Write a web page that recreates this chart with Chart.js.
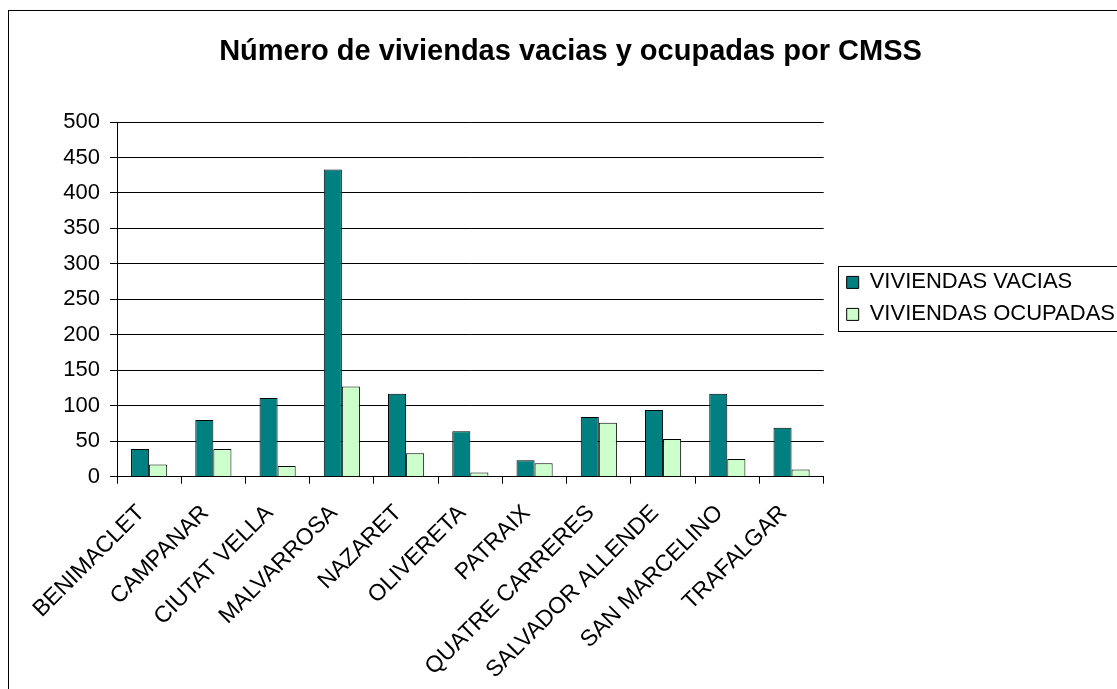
<!DOCTYPE html>
<html lang="es">
<head>
<meta charset="UTF-8">
<title>Viviendas vacias y ocupadas por CMSS</title>
<script src="https://cdn.jsdelivr.net/npm/chart.js"></script>
<style>
  html, body { margin: 0; padding: 0; background: #fff; overflow: hidden; }
  .marco { position: absolute; left: 8px; top: 10px; width: 1300px; height: 900px; border: 1px solid #000; }
  .grafico { position: absolute; left: 0; top: 0; width: 1125px; height: 700px; }
</style>
</head>
<body>
<div class="marco"></div>
<div class="grafico"><canvas id="graficoBarra"></canvas></div>

<script>
var centros = ['BENIMACLET', 'CAMPANAR', 'CIUTAT VELLA', 'MALVARROSA', 'NAZARET', 'OLIVERETA',
               'PATRAIX', 'QUATRE CARRERES', 'SALVADOR ALLENDE', 'SAN MARCELINO', 'TRAFALGAR'];
var vacias   = [39, 80, 111, 433, 117, 64, 23, 84, 94, 117, 69];
var ocupadas = [17, 39, 15, 127, 33, 6, 19, 76, 53, 25, 10];
var ticksY = { min: 0, max: 500, paso: 50 };

var fuente = 'Liberation Sans, Arial, sans-serif';

// caja alrededor de la leyenda, como en Excel
var cajaLeyenda = {
    id: 'cajaLeyenda',
    afterDraw: function (chart) {
        var hb = chart.legend.legendHitBoxes;
        if (!hb || !hb.length) return;
        var ultimo = hb[hb.length - 1];
        var x = Math.round(hb[0].left - 9) + 0.5;
        var y = Math.round(hb[0].top - 5) + 0.5;
        var alto = Math.round(ultimo.top + ultimo.height + 6) - Math.round(hb[0].top - 5);
        var ctx = chart.ctx;
        ctx.save();
        ctx.strokeStyle = '#000';
        ctx.lineWidth = 1;
        ctx.strokeRect(x, y, 400, alto);
        ctx.restore();
    }
};

new Chart(document.getElementById('graficoBarra').getContext('2d'), {
    type: 'bar',
    data: {
        labels: centros,
        datasets: [{
            label: 'VIVIENDAS VACIAS',
            data: vacias,
            backgroundColor: '#008080',
            borderColor: '#000',
            borderWidth: 1
        }, {
            label: 'VIVIENDAS OCUPADAS',
            data: ocupadas,
            backgroundColor: '#CCFFCC',
            borderColor: '#000',
            borderWidth: 1
        }]
    },
    options: {
        responsive: true,
        maintainAspectRatio: false,
        animation: false,
        datasets: { bar: { categoryPercentage: 0.5625, barPercentage: 1 } },
        layout: { padding: { left: 16, right: 0, top: 0, bottom: 0 } },
        plugins: {
            title: {
                display: true,
                text: 'Número de viviendas vacias y ocupadas por CMSS',
                color: '#000',
                font: { family: fuente, size: 29, weight: 'bold' },
                padding: { top: 34.6, bottom: 52.6 }
            },
            legend: {
                position: 'right',
                align: 'start',
                maxWidth: 400,
                title: { display: true, text: '', font: { size: 12 }, padding: { top: 247, bottom: 0 } },
                labels: {
                    color: '#000',
                    font: { family: fuente, size: 22, lineHeight: 1 },
                    boxWidth: 12,
                    boxHeight: 12,
                    padding: 10
                }
            },
            tooltip: { enabled: false }
        },
        scales: {
            x: {
                grid: { offset: true, drawOnChartArea: false, drawTicks: true, tickLength: 7, color: '#000' },
                border: { color: '#000' },
                ticks: { color: '#000', font: { family: fuente, size: 23 }, minRotation: 45, maxRotation: 45, padding: 16, labelOffset: -8 }
            },
            y: {
                min: ticksY.min,
                max: ticksY.max,
                afterFit: function (escala) { escala.width = 101; },
                grid: { color: '#000', tickLength: 7 },
                border: { color: '#000' },
                ticks: { stepSize: ticksY.paso, color: '#000', font: { family: fuente, size: 22 }, padding: 10 }
            },
            // hueco entre el área del gráfico y la leyenda
            hueco: {
                position: 'right',
                display: true,
                afterFit: function (escala) { escala.width = 13; },
                grid: { display: false },
                border: { display: false },
                ticks: { display: false }
            }
        }
    },
    plugins: [cajaLeyenda]
});
</script>
</body>
</html>
